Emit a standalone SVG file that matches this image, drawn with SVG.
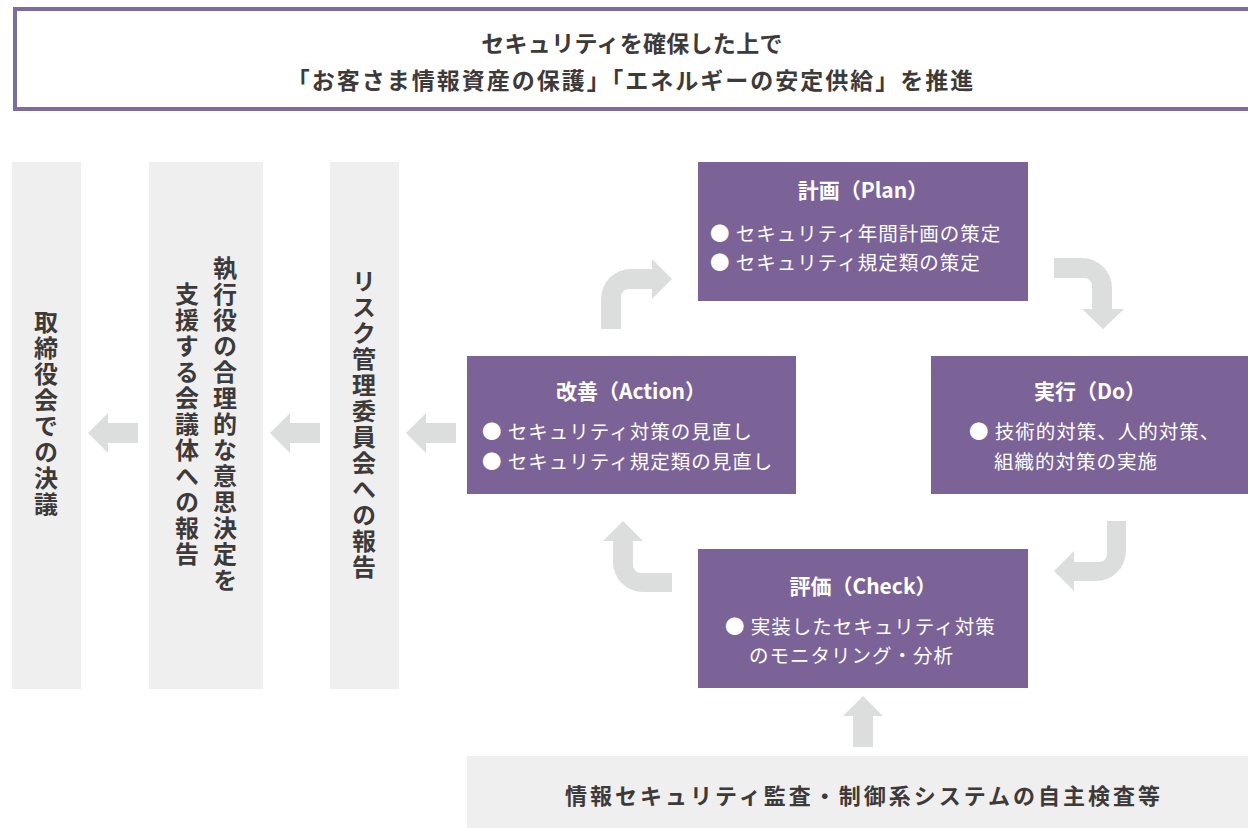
<svg xmlns="http://www.w3.org/2000/svg" width="1248" height="828" viewBox="0 0 1248 828">
<style>
.jp{font-family:"Noto Sans CJK JP","Noto Sans",sans-serif;}
.title{font-size:23px;font-weight:bold;fill:#3e3a39;text-anchor:middle;}
.col{fill:#efefef;}
.vt{font-size:24px;font-weight:bold;fill:#3e3a39;writing-mode:vertical-rl;text-anchor:middle;letter-spacing:2px;}
.box{fill:#7b6398;}
.bt{font-size:21px;font-weight:bold;fill:#ffffff;text-anchor:middle;}
.bl{font-size:19.5px;fill:#ffffff;letter-spacing:1px;}
.arr{fill:#dcdddd;}
.foot{font-size:22px;font-weight:bold;fill:#3e3a39;text-anchor:middle;letter-spacing:3px;}
</style>
<rect width="1248" height="828" fill="#ffffff"/>
<g id="header">
<rect x="15" y="9" width="1250" height="100" fill="#ffffff" stroke="#7f6b9d" stroke-width="4"/>
<text class="jp title" x="632" y="52" letter-spacing="0.3">セキュリティを確保した上で</text>
<text class="jp title" x="631" y="89" letter-spacing="2">「お客さま情報資産の保護」「エネルギーの安定供給」を推進</text>
</g>
<g id="board">
<rect class="col" x="12" y="162" width="69" height="527"/>
<text class="jp vt" x="46" y="414" letter-spacing="0">取締役会での決議</text>
</g>
<g id="council">
<rect class="col" x="149" y="162" width="114" height="527"/>
<text class="jp vt" x="225" y="425">執行役の合理的な意思決定を</text>
<text class="jp vt" x="187" y="425">支援する会議体への報告</text>
</g>
<g id="riskcommittee">
<rect class="col" x="330" y="162" width="69" height="527"/>
<text class="jp vt" x="364" y="425">リスク管理委員会への報告</text>
</g>
<g id="plan">
<rect class="box" x="698" y="162" width="330" height="139"/>
<text class="jp bt" x="863" y="198">計画（Plan）</text>
<text class="jp bl" x="710" y="241">● セキュリティ年間計画の策定</text>
<text class="jp bl" x="710" y="270">● セキュリティ規定類の策定</text>
</g>
<g id="action">
<rect class="box" x="467" y="356" width="329" height="138"/>
<text class="jp bt" x="631" y="399">改善（Action）</text>
<text class="jp bl" x="482" y="439">● セキュリティ対策の見直し</text>
<text class="jp bl" x="482" y="469">● セキュリティ規定類の見直し</text>
</g>
<g id="do">
<rect class="box" x="931" y="356" width="317" height="138"/>
<text class="jp bt" x="1090" y="399">実行（Do）</text>
<text class="jp bl" x="969" y="439">● 技術的対策、人的対策、</text>
<text class="jp bl" x="994" y="469">組織的対策の実施</text>
</g>
<g id="check">
<rect class="box" x="698" y="549" width="330" height="139"/>
<text class="jp bt" x="863" y="594">評価（Check）</text>
<text class="jp bl" x="725" y="634">● 実装したセキュリティ対策</text>
<text class="jp bl" x="749" y="663">のモニタリング・分析</text>
</g>
<g id="audit">
<rect class="col" x="467" y="756" width="781" height="72"/>
<text class="jp foot" x="864" y="804">情報セキュリティ監査・制御系システムの自主検査等</text>
</g>
<g id="connectors">
<path class="arr" d="M138,423 L108,423 L108,413 L88,433 L108,453 L108,443 L138,443 Z"/>
<path class="arr" d="M320,423 L290,423 L290,413 L270,433 L290,453 L290,443 L320,443 Z"/>
<path class="arr" d="M456,423 L426,423 L426,413 L406,433 L426,453 L426,443 L456,443 Z"/>
<path class="arr" d="M601,329 L601,299 A30,30 0 0 1 631,269 L652,269 L652,259 L672,279 L652,299 L652,289 L629,289 A8,8 0 0 0 621,297 L621,329 Z"/>
<path class="arr" d="M1054,258 L1082,258 A30,30 0 0 1 1112,288 L1112,309 L1124,309 L1103,329 L1082,309 L1092,309 L1092,286 A8,8 0 0 0 1084,278 L1054,278 Z"/>
<path class="arr" d="M1126,521 L1126,551 A30,30 0 0 1 1096,581 L1074,581 L1074,591 L1054,571 L1074,551 L1074,562 L1099,562 A8,8 0 0 0 1107,554 L1107,521 Z"/>
<path class="arr" d="M672,592 L643,592 A30,30 0 0 1 613,562 L613,541 L603,541 L623,521 L643,541 L633,541 L633,565 A8,8 0 0 0 641,573 L672,573 Z"/>
<path class="arr" d="M853,747 L853,716 L843,716 L863,696 L883,716 L873,716 L873,747 Z"/>
</g>
</svg>
